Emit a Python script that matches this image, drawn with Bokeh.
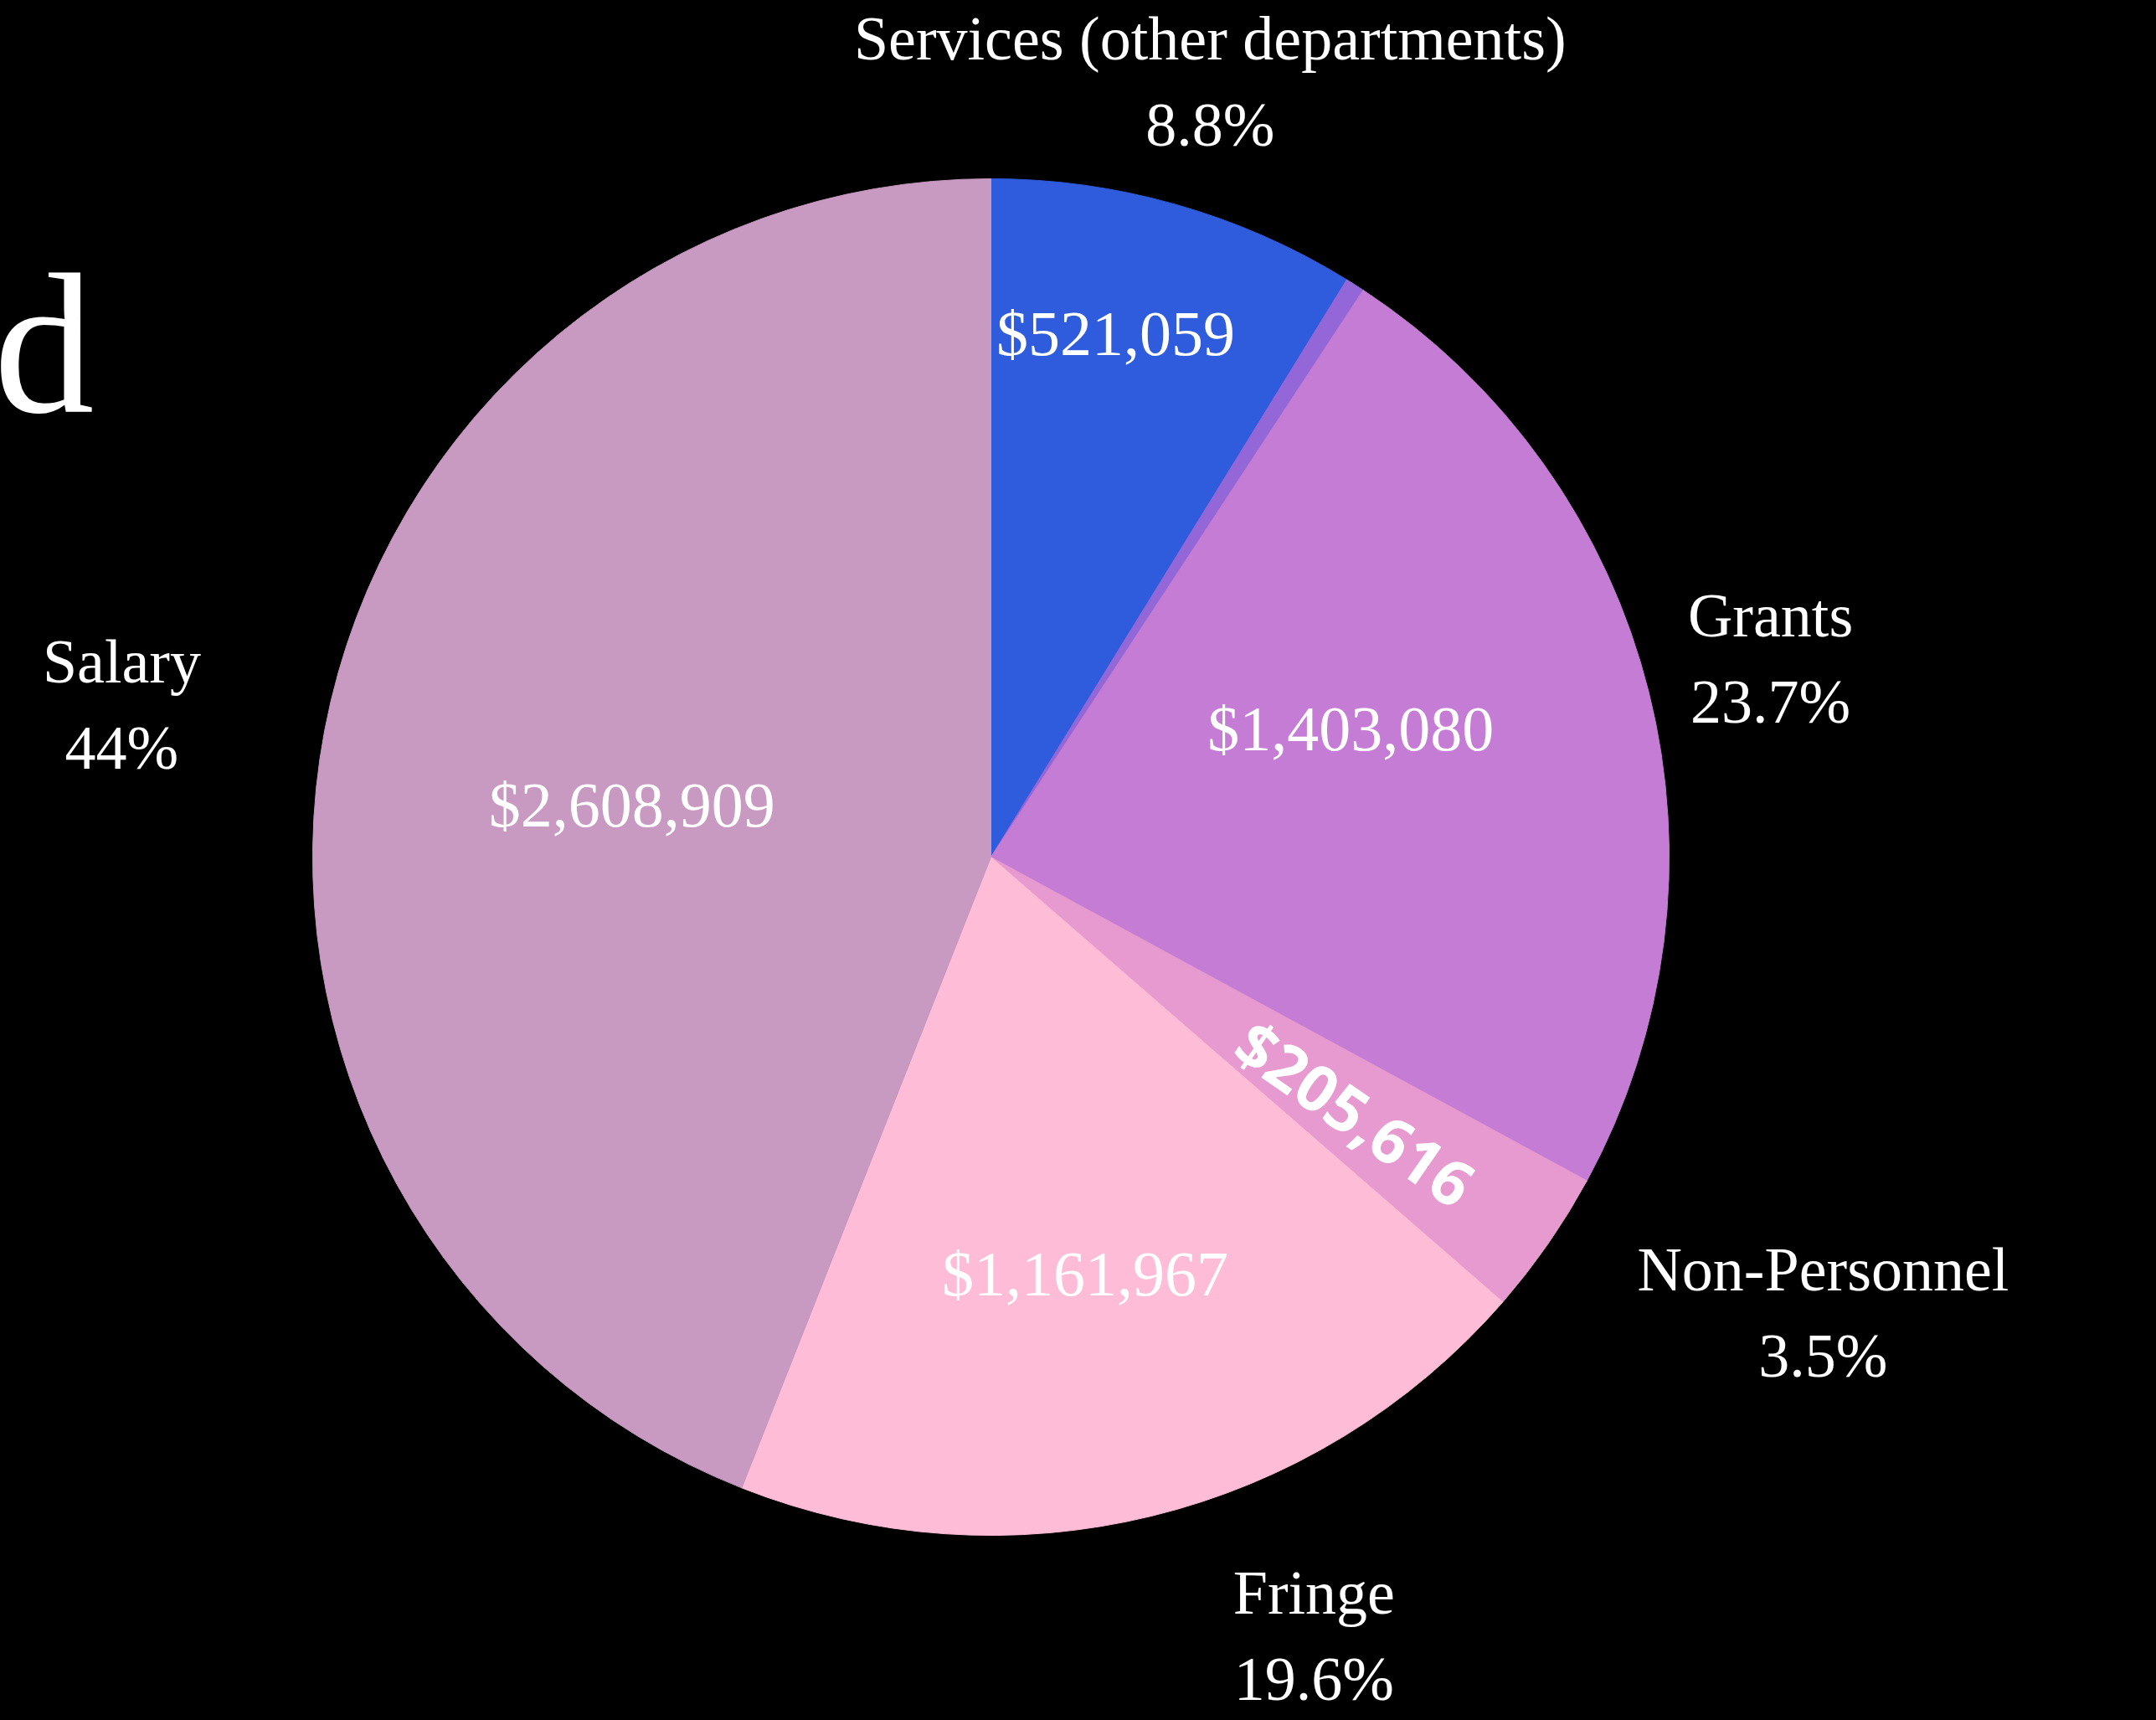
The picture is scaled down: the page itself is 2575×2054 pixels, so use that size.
import math
from bokeh.plotting import figure
from bokeh.models import Range1d, ColumnDataSource
from bokeh.core.properties import value
from bokeh.embed import file_html
from bokeh.resources import INLINE

# ---------------- data ----------------
categories = ["Services (other departments)", "Other", "Grants", "Non-Personnel", "Fringe", "Salary"]
amounts = [521059, 27000, 1403080, 205616, 1161967, 2608909]
show_outer = [True, False, True, True, True, True]
show_inner = [True, False, True, True, True, True]
title_text = "d"

# ---------------- style / layout ----------------
colors = ["#2E5CDD", "#9467D9", "#C57CD4", "#E79ACF", "#FEBCD7", "#C899C1"]
SERIF = "Liberation Serif"
W, H = 2575, 2054
CX, CY = 1183, 1023          # pie centre in page pixels
R = 810                      # pie radius (px)
R_LABEL = 960                # outer label radius
outer_dx = [0, 0, 0, 205, 158, -95]
inner_r = [642, 0, 456, 532, 511, 433]
inner_dtheta = [-2.4, 0, -5.4, 0.3, 1.0, -2.7]
rotated = [False, False, False, True, False, False]
BASE_FIX = 0.36              # baseline compensation (fraction of font size)

p = figure(width=W, height=H, output_backend="svg", toolbar_location=None,
           x_range=Range1d(-CX, W - CX), y_range=Range1d(CY - H, CY),
           min_border=0)
p.background_fill_color = "black"
p.border_fill_color = "black"
p.outline_line_color = None
p.axis.visible = False
p.grid.visible = False

total = float(sum(amounts))
fracs = [a / total for a in amounts]
starts, ends, mids = [], [], []
c = 0.0
for f in fracs:
    starts.append(c)
    c += f
    ends.append(c)
    mids.append(c - f / 2)

start_angle = [math.pi / 2 - 2 * math.pi * s for s in starts]
end_angle = [math.pi / 2 - 2 * math.pi * e for e in ends]

src = ColumnDataSource(dict(start=start_angle, end=end_angle, color=colors))
p.wedge(x=0, y=0, radius=R, start_angle="start", end_angle="end", direction="clock",
        fill_color="color", line_color="color", line_width=1, source=src)


def pct_label(f):
    s = f"{f * 100:.1f}"
    if s.endswith(".0"):
        s = s[:-2]
    return s + "%"


FS = 74
# outer labels (name + percent)
nx, ny, names, py, pcts = [], [], [], [], []
for i, cat in enumerate(categories):
    if not show_outer[i]:
        continue
    th = 2 * math.pi * mids[i]
    mx = R_LABEL * math.sin(th) + outer_dx[i]
    my = R_LABEL * math.cos(th)
    nx.append(mx)
    ny.append(my + 27.5 + BASE_FIX * FS)
    names.append(cat)
    py.append(my - 75.5 + BASE_FIX * FS)
    pcts.append(pct_label(fracs[i]))

p.text(x=nx, y=ny, text=names, text_font=value(SERIF), text_font_size=f"{FS}px",
       text_color="white", text_align="center", text_baseline="alphabetic")
p.text(x=nx, y=py, text=pcts, text_font=value(SERIF), text_font_size=f"{FS}px",
       text_color="white", text_align="center", text_baseline="alphabetic")

# inner value labels
FS_IN = 76
ix, iy, itext = [], [], []
rx, ry, rtext, rang = [], [], [], []
for i, a in enumerate(amounts):
    if not show_inner[i]:
        continue
    th = 2 * math.pi * mids[i] + math.radians(inner_dtheta[i])
    x = inner_r[i] * math.sin(th)
    y = inner_r[i] * math.cos(th)
    lab = f"${a:,}"
    if rotated[i]:
        rx.append(x)
        ry.append(y)
        rtext.append(lab)
        rang.append(math.pi / 2 - 2 * math.pi * mids[i])
    else:
        ix.append(x)
        iy.append(y - 26 + BASE_FIX * FS_IN)
        itext.append(lab)

p.text(x=ix, y=iy, text=itext, text_font=value(SERIF), text_font_size=f"{FS_IN}px",
       text_color="white", text_align="center", text_baseline="alphabetic")
p.text(x=rx, y=ry, text=rtext, angle=rang, text_font=value("Open Sans"),
       text_font_style="bold", text_font_size="76px", text_color="white",
       text_align="center", text_baseline="middle")

# title fragment at the left edge
FS_T = 240
p.text(x=[112 - CX], y=[CY - 493 + BASE_FIX * FS_T * 0.95], text=[title_text],
       text_font=value(SERIF), text_font_size=f"{FS_T}px", text_color="white",
       text_align="right", text_baseline="alphabetic")

html = file_html(p, INLINE, title="Budget")
html = html.replace("</head>", "<style>html,body{background:#000;overflow:hidden;}</style></head>", 1)
open("out.html", "w").write(html)
